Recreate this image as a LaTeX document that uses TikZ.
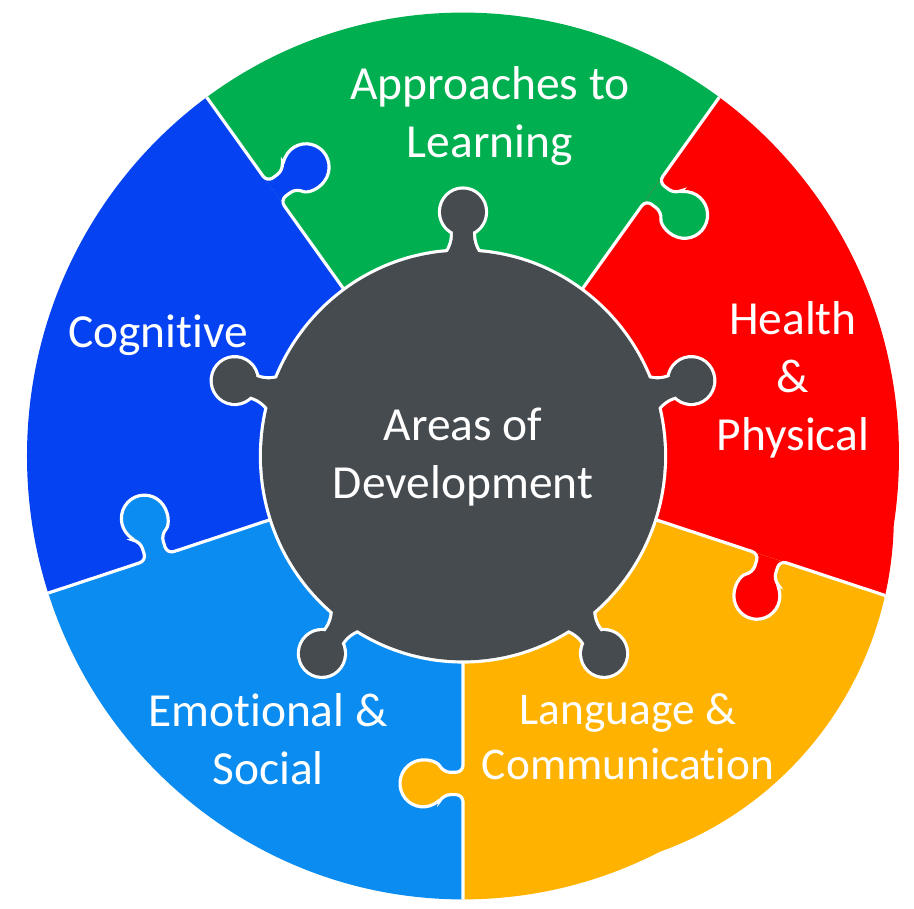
\documentclass[tikz,border=0pt]{standalone}
\usepackage{fontspec}
\setmainfont{Carlito}[Ligatures=NoCommon]
\usepackage{tikz}
\usepackage{xcolor}
\definecolor{learngreen}{HTML}{00B050}
\definecolor{healthred}{HTML}{FF0000}
\definecolor{langorange}{HTML}{FFB300}
\definecolor{socialblue}{HTML}{0A8CF0}
\definecolor{cogblue}{HTML}{0542F2}
\definecolor{hubgrey}{HTML}{464B50}

\begin{document}
\begin{tikzpicture}[x=0.01cm,y=0.01cm,
  piece/.style={rounded corners=2pt},
  seam/.style={draw=white,line width=0.9pt,rounded corners=2pt},
  tab/.style={insert path={(0,0) -- (311,0) -- (311,-19.8) arc[start angle=118.6,end angle=421.4,radius=23] -- (333,0) -- (520,0)}},
  nub/.style={insert path={[rounded corners=2.5pt] (188,-24) -- (208,-10) -- (234,-10) -- (234,10) -- (208,10) -- (188,24) -- cycle [sharp corners] (240,0) circle (22)}},
  hubline/.style={draw=white,fill=white,line width=1.8pt,line join=round},
  hubfill/.style={fill=hubgrey},
  lbl/.style={text=white,align=center,font=\fontsize{13.5pt}{16.4pt}\selectfont}]
\useasboundingbox (-463,-453) rectangle (451,456);
\begin{scope}[yscale=1.017]
\begin{scope}
\clip (0,0) circle (436) (-36:100) circle (350);
%%%PIECES
\fill[learngreen] (0,0) -- (54:520) arc[start angle=54,end angle=126,radius=520] -- cycle;
\fill[healthred] (0,0) -- (-18:520) arc[start angle=-18,end angle=54,radius=520] -- cycle;
\fill[langorange] (0,0) -- (-90:520) arc[start angle=-90,end angle=-18,radius=520] -- cycle;
\fill[socialblue] (0,0) -- (-162:520) arc[start angle=-162,end angle=-90,radius=520] -- cycle;
\fill[cogblue] (0,0) -- (126:520) arc[start angle=126,end angle=198,radius=520] -- cycle;
%%%TABS
\fill[cogblue,rotate=126,piece,tab];
\fill[learngreen,rotate=54,piece,tab];
\fill[healthred,rotate=-18,piece,tab];
\fill[langorange,rotate=-90,piece,tab];
\fill[socialblue,rotate=-162,piece,tab];
%%%SEAMS
\draw[seam,rotate=126,tab];
\draw[seam,rotate=54,tab];
\draw[seam,rotate=-18,tab];
\draw[seam,rotate=-90,tab];
\draw[seam,rotate=-162,tab];
\end{scope}
%%%HUB
\filldraw[hubline] (0,0) circle (201);
\filldraw[hubline,rotate=90,nub];
\filldraw[hubline,rotate=18,nub];
\filldraw[hubline,rotate=-54,nub];
\filldraw[hubline,rotate=-126,nub];
\filldraw[hubline,rotate=162,nub];
\fill[hubfill] (0,0) circle (201);
\fill[hubfill,rotate=90,nub];
\fill[hubfill,rotate=18,nub];
\fill[hubfill,rotate=-54,nub];
\fill[hubfill,rotate=-126,nub];
\fill[hubfill,rotate=162,nub];
\end{scope}
%%%LABELS
\node[lbl] (approach) at (27,340) {Approaches to\\Learning};
\node[lbl] (cognitive) at (-305,121) {Cognitive};
\node[lbl] (health) at (330,76) {Health\\\&\\Physical};
\node[lbl] (areas) at (0,-1) {Areas of\\Development};
\node[lbl] (emotion) at (-195,-283) {Emotional \&\\Social};
\node[lbl,font=\fontsize{12.9pt}{15.6pt}\selectfont] (language) at (165,-281) {Language \&\\Communication};
\end{tikzpicture}
\end{document}
